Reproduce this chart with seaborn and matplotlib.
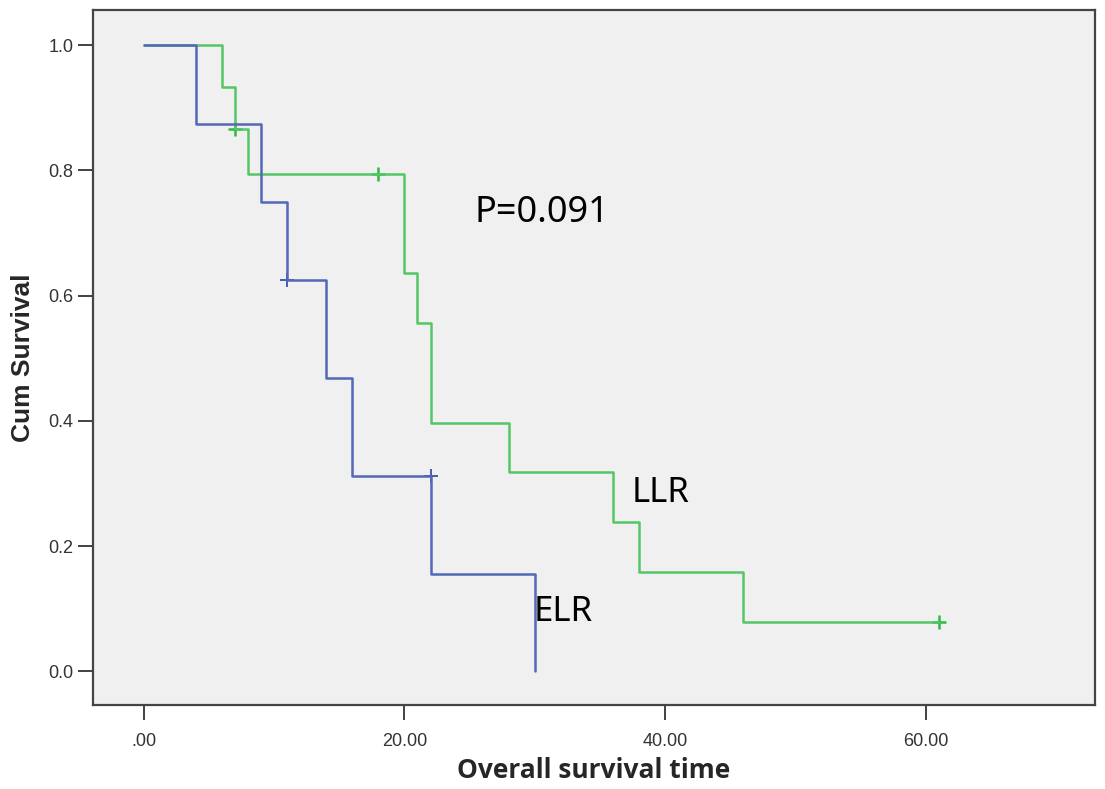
import numpy as np
import pandas as pd
import matplotlib
matplotlib.use('Agg')
import matplotlib.pyplot as plt
import seaborn as sns

# step data
elr_time = [0, 4, 9, 11, 14, 16, 22, 30]
elr_surv = [1.0, 0.875, 0.75, 0.625, 0.469, 0.3125, 0.156, 0.0]
elr_cens_time = [11, 22]
elr_cens_surv = [0.625, 0.3125]

llr_time = [0, 6, 7, 8, 20, 21, 22, 28, 36, 38, 46, 61]
llr_surv = [1.0, 0.933, 0.867, 0.795, 0.636, 0.557, 0.397, 0.318, 0.238, 0.159, 0.079, 0.079]
llr_cens_time = [7, 18, 61]
llr_cens_surv = [0.867, 0.795, 0.079]

x_ticks = [0, 20, 40, 60]
x_ticklabels = ['.00', '20.00', '40.00', '60.00']
y_ticks = [0.0, 0.2, 0.4, 0.6, 0.8, 1.0]

blue = '#5468B8'
green = '#55C665'

sns.set_style('white')
plt.rcParams['font.family'] = ['Liberation Sans', 'DejaVu Sans']

elr = pd.DataFrame({'time': elr_time, 'surv': elr_surv})
llr = pd.DataFrame({'time': llr_time, 'surv': llr_surv})

fig = plt.figure(figsize=(11.05, 7.89), dpi=100)
ax = fig.add_axes([0.0842, 0.1065, 0.9068, 0.8805])
ax.set_facecolor('#F0F0F0')

sns.lineplot(data=llr, x='time', y='surv', drawstyle='steps-post', color=green, lw=1.8, ax=ax)
sns.lineplot(data=elr, x='time', y='surv', drawstyle='steps-post', color=blue, lw=1.8, ax=ax)
sns.scatterplot(x=llr_cens_time, y=llr_cens_surv, marker='+', s=110, color='#2FB844', linewidth=1.8, ax=ax)
sns.scatterplot(x=elr_cens_time, y=elr_cens_surv, marker='+', s=90, color='#3A50A8', linewidth=1.3, ax=ax)

ax.set_xlim(-3.9, 73)
ax.set_ylim(-0.054, 1.056)
ax.set_xticks(x_ticks)
ax.set_xticklabels(x_ticklabels)
ax.set_yticks(y_ticks)
ax.set_yticklabels([f'{v:.1f}' for v in y_ticks])
ax.tick_params(axis='both', direction='out', length=11, width=1.3, color='#333333',
               labelsize=13, labelcolor='#333333', left=True, bottom=True)
ax.tick_params(axis='x', pad=9)
ax.tick_params(axis='y', pad=3)
for sp in ax.spines.values():
    sp.set_color('#444444')
    sp.set_linewidth(1.6)

ax.set_xlabel('Overall survival time', family=['Open Sans', 'DejaVu Sans'], fontweight='bold',
              fontsize=19, labelpad=5)
ax.set_ylabel('Cum Survival', family=['Liberation Sans', 'DejaVu Sans'], fontweight='bold',
              fontsize=19, labelpad=10)

ax.text(25.4, 0.732, 'P=0.091', family=['Noto Sans', 'DejaVu Sans'], fontsize=26,
        va='center', ha='left', color='black')
ax.text(37.4, 0.284, 'LLR', family=['Noto Sans', 'DejaVu Sans'], fontsize=25,
        va='center', ha='left', color='black')
ax.text(29.9, 0.094, 'ELR', family=['Noto Sans', 'DejaVu Sans'], fontsize=25,
        va='center', ha='left', color='black')

fig.savefig('out.png', dpi=100, facecolor='white')
